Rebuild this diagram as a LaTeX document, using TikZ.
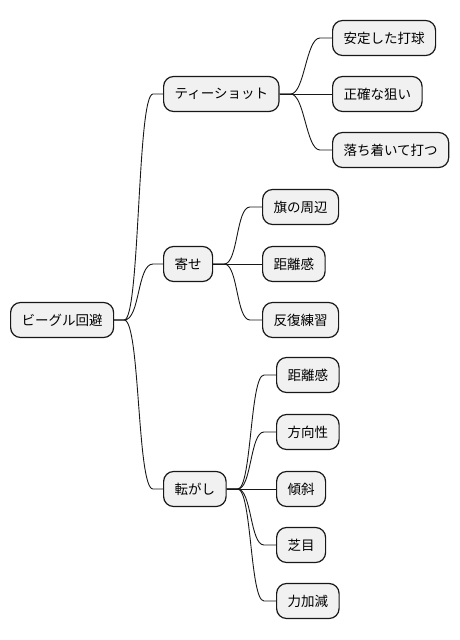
\documentclass[tikz,border=0pt]{standalone}
\usepackage{fontspec}
\setmainfont{Noto Sans CJK JP}
\usetikzlibrary{calc}

\begin{document}
\begin{tikzpicture}[x=1pt, y=-1pt]
        \tikzstyle{every node}=[rectangle, rounded corners=10pt, fill={rgb,255:red,241;green,241;blue,241}, draw={rgb,255:red,24;green,24;blue,24}, line width=1.2pt, inner xsep=11pt, inner ysep=0pt, minimum height=35pt, anchor=west, font=\fontsize{13.5}{16}\selectfont, text=black]
        \tikzstyle{edge}=[draw={rgb,255:red,24;green,24;blue,24}, line width=0.9pt]
        \useasboundingbox (0,0) rectangle (460,640);

        \node (root) at (10,320)   {ビーグル回避};

        \node (tee)  at (163,94)   {ティーショット};
        \node (yose) at (163,264)  {寄せ};
        \node (koro) at (163,489)  {転がし};

        \node (tee1) at (332,38)   {安定した打球};
        \node (tee2) at (332,94)   {正確な狙い};
        \node (tee3) at (332,150)  {落ち着いて打つ};

        \node (yose1) at (262,207) {旗の周辺};
        \node (yose2) at (262,264) {距離感};
        \node (yose3) at (262,320) {反復練習};

        \node (koro1) at (276,375) {距離感};
        \node (koro2) at (276,432) {方向性};
        \node (koro3) at (276,489) {傾斜};
        \node (koro4) at (276,545) {芝目};
        \node (koro5) at (276,601) {力加減};

        % root branches
        \draw[edge] (root.east) -- ++(10,0) to[out=0,in=180,distance=16] ($(tee.west)+(-10,0)$) -- (tee.west);
        \draw[edge] (root.east) -- ++(10,0) to[out=0,in=180,distance=16] ($(yose.west)+(-10,0)$) -- (yose.west);
        \draw[edge] (root.east) -- ++(10,0) to[out=0,in=180,distance=16] ($(koro.west)+(-10,0)$) -- (koro.west);

        % tee shot
        \draw[edge] (tee.east) -- ++(11,0) to[out=0,in=180,distance=14] ($(tee1.west)+(-12,0)$) -- (tee1.west);
        \draw[edge] (tee.east) -- (tee2.west);
        \draw[edge] (tee.east) -- ++(11,0) to[out=0,in=180,distance=14] ($(tee3.west)+(-12,0)$) -- (tee3.west);

        % approach
        \draw[edge] (yose.east) -- ++(11,0) to[out=0,in=180,distance=14] ($(yose1.west)+(-12,0)$) -- (yose1.west);
        \draw[edge] (yose.east) -- (yose2.west);
        \draw[edge] (yose.east) -- ++(11,0) to[out=0,in=180,distance=14] ($(yose3.west)+(-12,0)$) -- (yose3.west);

        % rolling
        \draw[edge] (koro.east) -- ++(11,0) to[out=0,in=180,distance=14] ($(koro1.west)+(-12,0)$) -- (koro1.west);
        \draw[edge] (koro.east) -- ++(11,0) to[out=0,in=180,distance=14] ($(koro2.west)+(-12,0)$) -- (koro2.west);
        \draw[edge] (koro.east) -- (koro3.west);
        \draw[edge] (koro.east) -- ++(11,0) to[out=0,in=180,distance=14] ($(koro4.west)+(-12,0)$) -- (koro4.west);
        \draw[edge] (koro.east) -- ++(11,0) to[out=0,in=180,distance=14] ($(koro5.west)+(-12,0)$) -- (koro5.west);
\end{tikzpicture}
\end{document}
